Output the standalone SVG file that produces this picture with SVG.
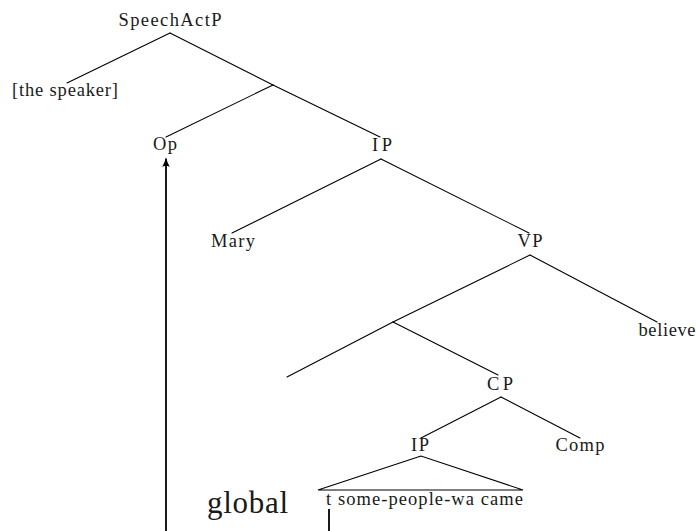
<svg xmlns="http://www.w3.org/2000/svg" width="696" height="531" viewBox="0 0 696 531">
<style>
.lbl{font-family:"Liberation Serif","Times New Roman",serif;font-size:18.5px;fill:#1a1a1a;text-anchor:middle}
.big{font-family:"Liberation Serif","Times New Roman",serif;font-size:31px;fill:#1a1a1a}
.edge{stroke:#000;stroke-width:1.1;fill:none;stroke-linecap:round}
.mv{stroke:#000;stroke-width:1.8;fill:none}
</style>
<defs>
<marker id="ah" viewBox="0 0 10 10" refX="8" refY="5" markerWidth="10" markerHeight="10" orient="auto" markerUnits="userSpaceOnUse">
<path d="M0,1.2 Q5,4 10,5 Q5,6 0,8.8 Q2.5,5 0,1.2 Z" fill="#000"/>
</marker>
</defs>
<rect width="696" height="531" fill="#fff"/>
<g id="connectors">
<line class="edge" x1="170" y1="33" x2="67" y2="83"/>
<line class="edge" x1="170" y1="33" x2="273" y2="85"/>
<line class="edge" x1="273" y1="85" x2="380" y2="137"/>
<line class="edge" x1="273" y1="85" x2="166" y2="137"/>
<line class="edge" x1="381" y1="159" x2="232" y2="233"/>
<line class="edge" x1="381" y1="159" x2="529" y2="233"/>
<line class="edge" x1="530" y1="255" x2="393" y2="322"/>
<line class="edge" x1="530" y1="255" x2="657" y2="322"/>
<line class="edge" x1="393" y1="322" x2="287" y2="377"/>
<line class="edge" x1="393" y1="322" x2="498" y2="375"/>
<line class="edge" x1="501" y1="397" x2="421" y2="438"/>
<line class="edge" x1="501" y1="397" x2="580" y2="438"/>
<path class="edge" d="M421,456 L318,490 L523,490 Z" stroke-linejoin="miter"/>
<line class="mv" x1="166" y1="531" x2="166" y2="159" marker-end="url(#ah)"/>
<line class="mv" x1="329" y1="509" x2="329" y2="531"/>
</g>
<g id="SpeechActP"><text class="lbl" x="170" y="26" textLength="103" lengthAdjust="spacing">SpeechActP</text></g>
<g id="speaker"><text class="lbl" x="65" y="96" textLength="106" lengthAdjust="spacing">[the speaker]</text></g>
<g id="Op"><text class="lbl" x="165" y="150" textLength="24" lengthAdjust="spacing">Op</text></g>
<g id="IP1"><text class="lbl" x="382" y="151" textLength="20" lengthAdjust="spacing">IP</text></g>
<g id="Mary"><text class="lbl" x="233" y="247" textLength="44" lengthAdjust="spacing">Mary</text></g>
<g id="VP"><text class="lbl" x="530" y="247" textLength="25" lengthAdjust="spacing">VP</text></g>
<g id="believe"><text class="lbl" x="667" y="336" textLength="57" lengthAdjust="spacing">believe</text></g>
<g id="CP"><text class="lbl" x="500" y="390" textLength="26" lengthAdjust="spacing">CP</text></g>
<g id="IP2"><text class="lbl" x="420" y="451" textLength="18" lengthAdjust="spacing">IP</text></g>
<g id="Comp"><text class="lbl" x="580" y="451" textLength="49" lengthAdjust="spacing">Comp</text></g>
<g id="clause"><text class="lbl" x="424.5" y="505" textLength="197" lengthAdjust="spacing">t some-people-wa came</text></g>
<g id="global"><text class="big" x="207" y="513" textLength="81" lengthAdjust="spacing">global</text></g>
</svg>
